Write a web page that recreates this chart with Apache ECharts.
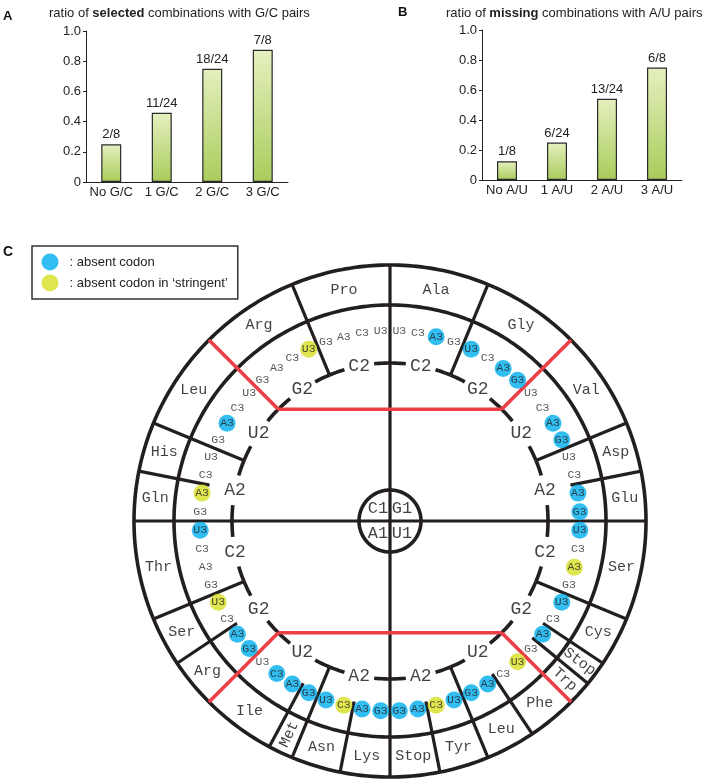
<!DOCTYPE html>
<html><head><meta charset="utf-8">
<script src="https://cdn.jsdelivr.net/npm/echarts/dist/echarts.min.js"></script>
<style>html,body{margin:0;padding:0;background:#fff}#c{width:709px;height:782px}</style>
</head><body><div id="c"></div>
<script>
// ---------- Panel A / B data ----------
const gcCategories = ['No G/C', '1 G/C', '2 G/C', '3 G/C'];
const gcValues = [0.25, 0.458, 0.75, 0.875];
const gcLabels = ['2/8', '11/24', '18/24', '7/8'];
const auCategories = ['No A/U', '1 A/U', '2 A/U', '3 A/U'];
const auValues = [0.125, 0.25, 0.542, 0.75];
const auLabels = ['1/8', '6/24', '13/24', '6/8'];

// ---------- Panel C data (codon wheel) ----------
const firstLetters = ['C1', 'G1', 'A1', 'U1'];
const secondLetters = ['C2', 'G2', 'U2', 'A2'];
const thirdLetters = ['U3', 'C3', 'A3', 'G3'];
// status of the 16 codons of each first-letter quadrant, listed outward from the axis
// 0 = present, 1 = absent codon, 2 = absent codon in 'stringent'
const codonStatusG1 = [0,0,1,0, 1,0,1,1, 0,0,1,1, 0,0,1,1];
const codonStatusU1 = [1,0,2,0, 1,0,1,0, 2,0,1,1, 1,2,1,1];
const codonStatusC1 = [0,0,0,0, 2,0,0,0, 0,0,1,0, 0,0,2,0];
const codonStatusA1 = [1,0,0,0, 2,0,1,1, 0,1,1,1, 1,2,1,1];
// amino acids of each quadrant and how many codons each covers
const aminoNamesG1 = ['Ala', 'Gly', 'Val', 'Asp', 'Glu'];
const aminoSpansG1 = [4, 4, 4, 2, 2];
const aminoNamesU1 = ['Ser', 'Cys', 'Stop', 'Trp', 'Phe', 'Leu', 'Tyr', 'Stop'];
const aminoSpansU1 = [4, 2, 1, 1, 2, 2, 2, 2];
const aminoNamesC1 = ['Pro', 'Arg', 'Leu', 'His', 'Gln'];
const aminoSpansC1 = [4, 4, 4, 2, 2];
const aminoNamesA1 = ['Thr', 'Ser', 'Arg', 'Ile', 'Met', 'Asn', 'Lys'];
const aminoSpansA1 = [4, 2, 2, 3, 1, 2, 2];
const legendNames = ['absent codon', 'absent codon in \u2018stringent\u2019'];

// ---------- layout ----------
const statusMap = {G1: codonStatusG1, U1: codonStatusU1, C1: codonStatusC1, A1: codonStatusA1};
const aminoMap = {G1: [aminoNamesG1, aminoSpansG1], U1: [aminoNamesU1, aminoSpansU1],
                  C1: [aminoNamesC1, aminoSpansC1], A1: [aminoNamesA1, aminoSpansA1]};
const quadLayout = {G1: {dir: 1, off: 0}, U1: {dir: 1, off: 16}, C1: {dir: -1, off: 0}, A1: {dir: -1, off: 16}};
const STEP = 360 / 64;
const R_OUT = 256, R_RING = 216, R_AA = 236, R_CODON = 190, R_SPLIT = 184, R_SEC = 158, R_CENTER = 31;
function slotAngle(q, k) {
  const L = quadLayout[q];
  const a = (L.off + k) * STEP;
  return L.dir > 0 ? a : 360 - a;
}

const BLACK = '#231f20', RED = '#ee3e45', BLUE = '#00aeef', YELLOW = '#d7df23';
const MONO = 'Liberation Mono', SANS = 'Liberation Sans';

// codon markers
const blueData = [], yellowData = [], plainData = [];
Object.keys(statusMap).forEach(q => {
  statusMap[q].forEach((st, k) => {
    const item = {name: thirdLetters[k % 4], value: [R_CODON, slotAngle(q, k + 0.5)]};
    (st === 1 ? blueData : st === 2 ? yellowData : plainData).push(item);
  });
});

// amino acid labels and split lines
const aaData = [];
const blackSegs = [], redSegs = [];
Object.keys(aminoMap).forEach(q => {
  const [names, spans] = aminoMap[q];
  let start = 0;
  names.forEach((nm, i) => {
    const a = slotAngle(q, start + spans[i] / 2);
    const item = {name: nm, value: [R_AA, a]};
    if (spans[i] === 1) item.label = {rotate: quadLayout[q].dir > 0 ? 90 - a : 270 - a};
    aaData.push(item);
    start += spans[i];
    if (start % 4 !== 0 && start < 16) {
      const b = slotAngle(q, start);
      blackSegs.push([R_SPLIT, b, R_OUT, b]);
    }
  });
});

// section boundaries
const arcs = [[R_OUT, 0, 360], [R_RING, 0, 360], [R_CENTER, 0, 360]];
const secData = [];
const GAP = 5.5;
for (let s = 0; s < 16; s++) {
  const a = s * 22.5;
  if (s % 4 === 0) blackSegs.push([0, a, R_OUT, a]);
  else if (s % 4 === 2) redSegs.push([R_SEC, a, R_OUT, a]);
  else blackSegs.push([R_SEC, a, R_OUT, a]);
  arcs.push([R_SEC, a, a + 11.25 - GAP]);
  arcs.push([R_SEC, a + 11.25 + GAP, a + 22.5]);
  const letter = s < 8 ? secondLetters[s % 4] : secondLetters[(15 - s) % 4];
  secData.push({name: letter, value: [R_SEC, a + 11.25]});
}
redSegs.push([R_SEC, 315, R_SEC, 45]);
redSegs.push([R_SEC, 135, R_SEC, 225]);

const centerData = firstLetters.map(q => ({name: q, value: [17, slotAngle(q, 8)]}));

function segRender(color, width) {
  return (params, api) => {
    const p1 = api.coord([api.value(0), api.value(1)]);
    const p2 = api.coord([api.value(2), api.value(3)]);
    return {type: 'line', shape: {x1: p1[0], y1: p1[1], x2: p2[0], y2: p2[1]},
            style: {stroke: color, lineWidth: width, lineCap: 'butt'}};
  };
}
function arcRender(params, api) {
  const r = api.value(0), a1 = api.value(1), a2 = api.value(2);
  const n = Math.max(2, Math.ceil(Math.abs(a2 - a1)) + 1);
  const pts = [];
  for (let i = 0; i < n; i++) pts.push(api.coord([r, a1 + (a2 - a1) * i / (n - 1)]));
  return {type: 'polyline', shape: {points: pts}, style: {stroke: BLACK, lineWidth: 3.6, fill: null}};
}

function monoLabel(fontSize, color) {
  return {show: true, position: 'inside', formatter: '{b}', fontFamily: MONO, fontSize: fontSize,
          color: color, textBorderWidth: 0, textBorderColor: 'transparent'};
}
function textScatter(data, fontSize, color) {
  return {
    type: 'scatter', coordinateSystem: 'polar', symbolSize: 0, silent: true, z: 5,
    itemStyle: {color: 'transparent'},
    data: data, label: monoLabel(fontSize, color)
  };
}

const barGradient = new echarts.graphic.LinearGradient(0, 0, 0, 1, [
  {offset: 0, color: '#e5f0bf'}, {offset: 1, color: '#a9cc5b'}]);

function barAxes(gi, cats) {
  return {
    x: {gridIndex: gi, type: 'category', data: cats,
        axisLine: {lineStyle: {color: '#222', width: 1}},
        axisTick: {length: 4, lineStyle: {color: '#222'}},
        axisLabel: {interval: 0, color: '#222', fontSize: 13, margin: 4, fontFamily: SANS}},
    y: {gridIndex: gi, type: 'value', min: 0, max: 1, interval: 0.2,
        axisLine: {show: true, lineStyle: {color: '#222', width: 1}},
        axisTick: {show: true, length: 3, lineStyle: {color: '#222'}},
        splitLine: {show: false},
        axisLabel: {color: '#222', fontSize: 13, margin: 5, fontFamily: SANS,
                    formatter: v => v === 0 ? '0' : v.toFixed(1)}}
  };
}
const axA = barAxes(0, gcCategories), axB = barAxes(1, auCategories);

function barSeries(gi, values, labels) {
  return {
    type: 'bar', xAxisIndex: gi, yAxisIndex: gi, barWidth: 20, silent: true,
    data: values,
    itemStyle: {color: barGradient, borderColor: '#2a2a2a', borderWidth: 1.2},
    label: {show: true, position: 'top', distance: 3, fontSize: 13, color: '#222', fontFamily: SANS,
            formatter: p => labels[p.dataIndex]}
  };
}

const titleStyle = {fontSize: 13, fontWeight: 'normal', color: '#222', fontFamily: SANS,
  rich: {b: {fontSize: 13, fontWeight: 'bold', color: '#222', fontFamily: SANS}}};

const option = {
  animation: false,
  backgroundColor: '#fff',
  title: [
    {text: 'A', left: 3, top: 10, padding: 0, textStyle: {fontSize: 13, fontWeight: 'bold', color: '#111', fontFamily: SANS}},
    {text: 'ratio of {b|selected} combinations with G/C pairs', left: 49, top: 7, padding: 0, textStyle: titleStyle},
    {text: 'B', left: 398, top: 5.5, padding: 0, textStyle: {fontSize: 13, fontWeight: 'bold', color: '#111', fontFamily: SANS}},
    {text: 'ratio of {b|missing} combinations with A/U pairs', left: 446, top: 7, padding: 0, textStyle: titleStyle},
    {text: 'C', left: 3, top: 245, padding: 0, textStyle: {fontSize: 14, fontWeight: 'bold', color: '#111', fontFamily: SANS}}
  ],
  legend: {
    orient: 'vertical', left: 32, top: 246, padding: [7.5, 10, 7.5, 9.5], itemGap: 4,
    itemWidth: 17, itemHeight: 17, icon: 'circle', selectedMode: false,
    borderColor: '#333', borderWidth: 1.5,
    data: legendNames,
    formatter: n => ': ' + n,
    textStyle: {fontSize: 13, color: '#222', fontFamily: SANS, padding: [0, 0, 0, 6]}
  },
  grid: [
    {left: 86, top: 31, width: 202, height: 151},
    {left: 482, top: 30, width: 200, height: 150}
  ],
  xAxis: [axA.x, axB.x],
  yAxis: [axA.y, axB.y],
  polar: {center: [390, 521], radius: R_OUT},
  angleAxis: {type: 'value', min: 0, max: 360, startAngle: 90, clockwise: true, show: false,
              axisLine: {show: false}, axisLabel: {show: false}, splitLine: {show: false}, axisTick: {show: false}},
  radiusAxis: {type: 'value', min: 0, max: R_OUT, show: false,
               axisLine: {show: false}, axisLabel: {show: false}, splitLine: {show: false}, axisTick: {show: false}},
  series: [
    barSeries(0, gcValues, gcLabels),
    barSeries(1, auValues, auLabels),
    {type: 'custom', coordinateSystem: 'polar', silent: true, z: 1, data: arcs, renderItem: arcRender},
    {type: 'custom', coordinateSystem: 'polar', silent: true, z: 1, data: blackSegs, renderItem: segRender(BLACK, 3.2)},
    {type: 'custom', coordinateSystem: 'polar', silent: true, z: 2, data: redSegs, renderItem: segRender(RED, 3.6)},
    {name: legendNames[0], type: 'scatter', coordinateSystem: 'polar', symbolSize: 17, silent: true, z: 4,
     itemStyle: {color: BLUE}, data: blueData, label: monoLabel(11.5, BLACK)},
    {name: legendNames[1], type: 'scatter', coordinateSystem: 'polar', symbolSize: 17, silent: true, z: 4,
     itemStyle: {color: YELLOW}, data: yellowData, label: monoLabel(11.5, BLACK)},
    textScatter(plainData, 11.5, '#2e2e2e'),
    textScatter(aaData, 15, '#111'),
    textScatter(secData, 18, '#111'),
    textScatter(centerData, 17, '#111')
  ]
};
echarts.init(document.getElementById('c'), null, {renderer: 'canvas'}).setOption(option);
</script></body></html>
